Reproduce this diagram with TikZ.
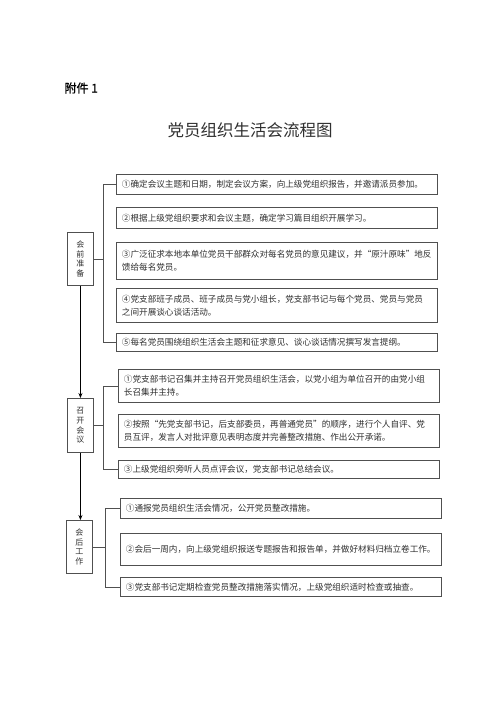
\documentclass[tikz,border=0pt]{standalone}
\usepackage{fontspec}
\setmainfont{Noto Sans CJK SC}
\newfontfamily\cjkb[FakeBold=1.2]{Noto Sans CJK SC}
\usetikzlibrary{arrows.meta}
\definecolor{linec}{HTML}{505050}
\definecolor{textc}{HTML}{303030}
\begin{document}
\begin{tikzpicture}[x=1pt,y=-1pt,
  box/.style={draw=linec, line width=0.9pt, anchor=north west, inner xsep=5.5pt, inner ysep=1pt,
    text width=310pt, align=left, font=\fontsize{8.6}{13}\selectfont, text=textc},
  side/.style={draw=linec, line width=0.9pt, anchor=north west, inner sep=0pt, align=center,
    text width=10pt, minimum width=26pt, font=\fontsize{8}{9.6}\selectfont, text=textc},
  conn/.style={draw=linec, line width=0.9pt},
  flow/.style={draw=black, line width=0.9pt, -{Stealth[length=5pt,width=4pt]}}]
\useasboundingbox[fill=white] (0,0) rectangle (500,707);

\node[anchor=west, font=\cjkb\fontsize{12}{14}\selectfont] (att) at (61,88) {附件 1};
\node[font=\fontsize{16.5}{19}\selectfont, text=textc] (title) at (250,130) {党员组织生活会流程图};

% section 1
\node[box, minimum height=20pt] (a1) at (116,174) {①确定会议主题和日期，制定会议方案，向上级党组织报告，并邀请派员参加。};
\node[box, minimum height=21pt] (a2) at (116,207) {②根据上级党组织要求和会议主题，确定学习篇目组织开展学习。};
\node[box, minimum height=37pt] (a3) at (116,242) {③广泛征求本地本单位党员干部群众对每名党员的意见建议，并“原汁原味”地反\\馈给每名党员。};
\node[box, minimum height=34pt] (a4) at (116,288) {④党支部班子成员、班子成员与党小组长，党支部书记与每个党员、党员与党员\\之间开展谈心谈话活动。};
\node[box, minimum height=18pt] (a5) at (116,333) {⑤每名党员围绕组织生活会主题和征求意见、谈心谈话情况撰写发言提纲。};
\node[side, minimum height=53pt] (L1) at (67,232) {会\\前\\准\\备};

% section 2
\node[box, minimum height=33pt] (b1) at (118,369) {①党支部书记召集并主持召开党员组织生活会，以党小组为单位召开的由党小组\\长召集并主持。};
\node[box, minimum height=33pt] (b2) at (118,414) {②按照“先党支部书记，后支部委员，再普通党员”的顺序，进行个人自评、党\\员互评，发言人对批评意见表明态度并完善整改措施、作出公开承诺。};
\node[box, minimum height=18pt] (b3) at (118,460) {③上级党组织旁听人员点评会议，党支部书记总结会议。};
\node[side, minimum height=54pt] (L2) at (67,398) {召\\开\\会\\议};

% section 3
\node[box, minimum height=20pt] (c1) at (120,498) {①通报党员组织生活会情况，公开党员整改措施。};
\node[box, minimum height=32pt] (c2) at (120,533) {②会后一周内，向上级党组织报送专题报告和报告单，并做好材料归档立卷工作。};
\node[box, minimum height=19pt] (c3) at (120,577) {③党支部书记定期检查党员整改措施落实情况，上级党组织适时检查或抽查。};
\node[side, minimum height=53pt] (L3) at (66,520) {会\\后\\工\\作};

% brackets
\coordinate (k1) at (103,0);
\coordinate (k2) at (103,0);
\coordinate (k3) at (105,0);
\draw[conn] (a1.west) -- (a1.west -| k1) |- (a5.west);
\draw[conn] (L1.east) -- (L1.east -| k1);
\draw[conn] (b1.west) -- (b1.west -| k2) |- (b3.west);
\draw[conn] (L2.east) -- (L2.east -| k2);
\draw[conn] (c1.west) -- (c1.west -| k3) |- (c3.west);
\draw[conn] (L3.east) -- (L3.east -| k3);

% flow arrows
\draw[flow] (L1.south) -- (L1.south |- L2.north);
\draw[flow] (L2.south) -- (L2.south |- L3.north);
\end{tikzpicture}
\end{document}
